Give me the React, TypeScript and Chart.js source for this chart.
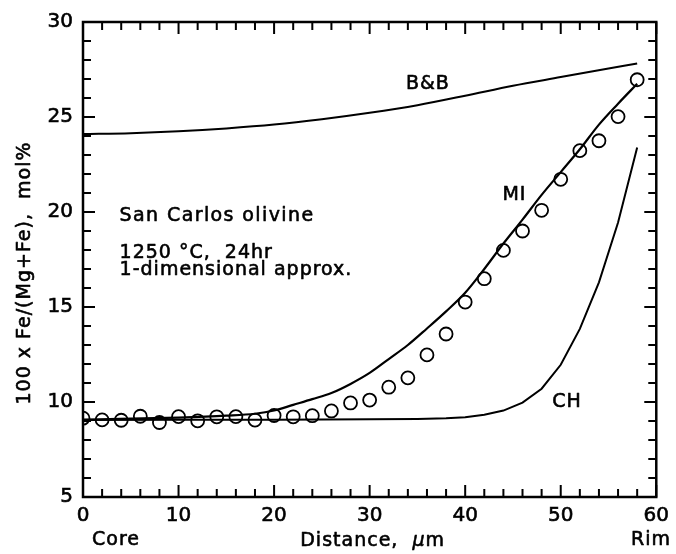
import { useEffect, useRef } from 'react';
import { Chart, registerables } from 'chart.js';

Chart.register(...registerables);

// Measured data points (circles)
const pointX = [0, 2, 4, 6, 8, 10, 12, 14, 16, 18, 20, 22, 24, 26, 28, 30, 32, 34, 36, 38, 40, 42, 44, 46, 48, 50, 52, 54, 56, 58];
const pointY = [9.15, 9.06, 9.04, 9.25, 8.92, 9.23, 9.01, 9.22, 9.23, 9.05, 9.29, 9.22, 9.28, 9.53, 9.95, 10.1, 10.78, 11.27, 12.48, 13.58, 15.26, 16.49, 17.98, 19.0, 20.09, 21.72, 23.23, 23.75, 25.02, 26.96];

// B&B model curve
const bbX = [0, 5, 10, 15, 20, 25, 30, 35, 40, 45, 50, 55, 58];
const bbY = [24.1, 24.15, 24.25, 24.4, 24.6, 24.88, 25.22, 25.62, 26.12, 26.65, 27.1, 27.55, 27.82];

// MI model curve
const miX = [0, 5, 10, 15, 18, 20, 22, 24, 26, 28, 30, 32, 34, 36, 38, 40, 42, 44, 46, 48, 50, 52, 54, 56, 58];
const miY = [9.08, 9.12, 9.18, 9.28, 9.38, 9.55, 9.85, 10.15, 10.47, 10.95, 11.53, 12.26, 13.0, 13.87, 14.77, 15.75, 17.0, 18.34, 19.6, 20.9, 22.1, 23.3, 24.6, 25.7, 26.75];

// CH model curve
const chX = [0, 10, 20, 30, 35, 38, 40, 42, 44, 46, 48, 50, 52, 54, 56, 58];
const chY = [9.05, 9.06, 9.07, 9.09, 9.11, 9.14, 9.2, 9.33, 9.55, 9.97, 10.7, 11.96, 13.85, 16.3, 19.45, 23.4];

// Axis ticks
const xMin = 0, xMax = 60, xMajor = 10, xMinor = 2;
const yMin = 5, yMax = 30, yMajor = 5, yMinor = 1;

const FONT = '"DejaVu Sans", "Liberation Sans", Arial, sans-serif';

const toXY = (xs: number[], ys: number[]) => xs.map((x, i) => ({ x, y: ys[i] }));

export default function App() {
  const ref = useRef<HTMLCanvasElement | null>(null);

  useEffect(() => {
    document.body.style.margin = '0';
    const canvas = ref.current;
    if (!canvas) return;

    const decor = {
      id: 'decor',
      afterDraw(chart: any) {
        const { ctx, chartArea } = chart;
        const xs = chart.scales.x;
        const ys = chart.scales.y;
        const { left, right, top, bottom } = chartArea;
        ctx.save();
        ctx.strokeStyle = '#000';
        ctx.fillStyle = '#000';
        // box
        ctx.lineWidth = 2.5;
        ctx.strokeRect(left, top, right - left, bottom - top);
        // inward ticks
        ctx.lineWidth = 2;
        ctx.beginPath();
        for (let v = xMin; v <= xMax + 1e-9; v += xMinor) {
          const px = xs.getPixelForValue(v);
          const len = Math.abs(v % xMajor) < 1e-9 ? 12 : 8;
          ctx.moveTo(px, bottom); ctx.lineTo(px, bottom - len);
          ctx.moveTo(px, top); ctx.lineTo(px, top + len);
        }
        for (let v = yMin; v <= yMax + 1e-9; v += yMinor) {
          const py = ys.getPixelForValue(v);
          const len = Math.abs(v % yMajor) < 1e-9 ? 12 : 8;
          ctx.moveTo(left, py); ctx.lineTo(left + len, py);
          ctx.moveTo(right, py); ctx.lineTo(right - len, py);
        }
        ctx.stroke();

        const setSpacing = (s: string) => { try { (ctx as any).letterSpacing = s; } catch (e) {} };
        ctx.lineWidth = 0.6;
        ctx.lineJoin = 'round';
        const put = (s: string, x: number, y: number) => { ctx.fillText(s, x, y); ctx.strokeText(s, x, y); };

        // annotations
        ctx.font = `19px ${FONT}`;
        ctx.textAlign = 'left';
        ctx.textBaseline = 'alphabetic';
        const txt = (s: string, x: number, y: number) => put(s, xs.getPixelForValue(x), ys.getPixelForValue(y));
        setSpacing('1.4px');
        txt('San Carlos olivine', 3.83, 19.53);
        setSpacing('1px');
        txt('1250 °C,  24hr', 3.83, 17.6);
        txt('1-dimensional approx.', 3.83, 16.66);
        txt('B&B', 33.8, 26.5);
        txt('MI', 43.9, 20.65);
        txt('CH', 49.1, 9.74);

        // Core / Rim
        ctx.textBaseline = 'middle';
        ctx.textAlign = 'left';
        put('Core', 92, 540);
        ctx.textAlign = 'right';
        put('Rim', 671, 540);

        // x title with italic mu
        ctx.textAlign = 'left';
        const p1 = 'Distance,  ';
        const p2 = 'μ';
        const p3 = 'm';
        ctx.font = `19px ${FONT}`;
        const w1 = ctx.measureText(p1).width;
        const w3 = ctx.measureText(p3).width;
        ctx.font = `italic 19px ${FONT}`;
        const w2 = ctx.measureText(p2).width;
        const total = w1 + w2 + w3;
        let cx = (left + right) / 2 + 3 - total / 2;
        ctx.font = `19px ${FONT}`;
        put(p1, cx, 541); cx += w1;
        ctx.font = `italic 19px ${FONT}`;
        put(p2, cx, 541); cx += w2;
        ctx.font = `19px ${FONT}`;
        put(p3, cx, 541);

        // y title
        ctx.save();
        ctx.translate(25, 273);
        ctx.rotate(-Math.PI / 2);
        ctx.textAlign = 'center';
        ctx.textBaseline = 'middle';
        ctx.font = `19px ${FONT}`;
        put('100 x Fe/(Mg+Fe),  mol%', 0, 0);
        ctx.restore();

        setSpacing('0px');
        ctx.restore();
      },
    };

    const chart = new Chart(canvas, {
      type: 'line',
      data: {
        datasets: [
          {
            label: 'B&B',
            data: toXY(bbX, bbY),
            borderColor: '#000',
            borderWidth: 2,
            pointRadius: 0,
            cubicInterpolationMode: 'monotone',
            fill: false,
          },
          {
            label: 'MI',
            data: toXY(miX, miY),
            borderColor: '#000',
            borderWidth: 2.2,
            pointRadius: 0,
            cubicInterpolationMode: 'monotone',
            fill: false,
          },
          {
            label: 'CH',
            data: toXY(chX, chY),
            borderColor: '#000',
            borderWidth: 2,
            pointRadius: 0,
            tension: 0,
            fill: false,
          },
          {
            label: 'data',
            data: toXY(pointX, pointY),
            showLine: false,
            borderColor: '#000',
            backgroundColor: 'rgba(0,0,0,0)',
            pointRadius: 6.5,
            pointBorderWidth: 1.8,
            pointBorderColor: '#000',
            pointBackgroundColor: 'rgba(0,0,0,0)',
            pointStyle: 'circle',
          },
        ],
      },
      options: {
        animation: false,
        responsive: false,
        maintainAspectRatio: false,
        layout: { padding: { top: 17, right: 13, left: 0, bottom: 0 } },
        plugins: {
          legend: { display: false },
          tooltip: { enabled: false },
        },
        scales: {
          x: {
            type: 'linear',
            min: xMin,
            max: xMax,
            grid: { display: false, drawTicks: false },
            border: { display: false },
            ticks: {
              stepSize: xMajor,
              color: '#000',
              textStrokeColor: '#000',
              textStrokeWidth: 0.6,
              padding: 7,
              maxRotation: 0,
              font: { family: FONT, size: 20 },
            },
            afterFit: (scale: any) => { scale.height = 57; },
          },
          y: {
            type: 'linear',
            min: yMin,
            max: yMax,
            grid: { display: false, drawTicks: false },
            border: { display: false },
            ticks: {
              stepSize: yMajor,
              color: '#000',
              textStrokeColor: '#000',
              textStrokeWidth: 0.6,
              padding: 10,
              font: { family: FONT, size: 20 },
            },
            afterFit: (scale: any) => { scale.width = 83; },
          },
        },
      },
      plugins: [decor],
    } as any);

    return () => chart.destroy();
  }, []);

  return (
    <div style={{ width: 676, height: 554, position: 'relative', background: '#fff' }}>
      <canvas ref={ref} width={676} height={554} />
    </div>
  );
}
